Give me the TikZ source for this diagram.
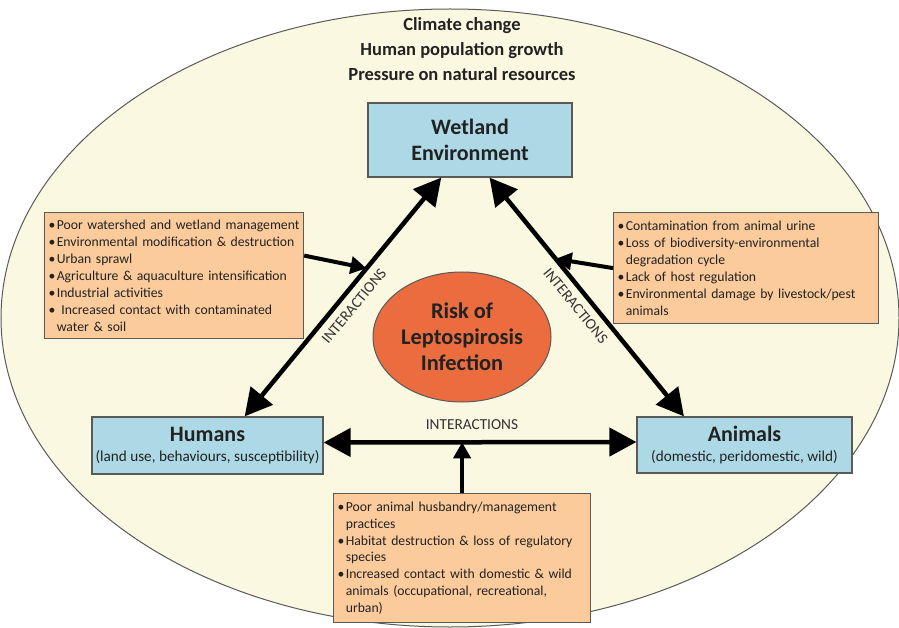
\documentclass[tikz,border=0pt]{standalone}
\usepackage{fontspec}
\setmainfont{Carlito}
\usetikzlibrary{arrows.meta,shapes.geometric,calc}
\definecolor{cream}{HTML}{FAF8E1}
\definecolor{edgegray}{HTML}{5A5A5A}
\definecolor{boxblue}{HTML}{ADD8E6}
\definecolor{boxorange}{HTML}{FBCB9C}
\definecolor{riskred}{HTML}{EB6D3F}
\definecolor{txt}{HTML}{222222}
\newcommand{\bul}{\makebox[0.6em][l]{\textbullet}}
\newcommand{\ind}{\hspace*{0.6em}}
\begin{document}
\begin{tikzpicture}[x=1pt,y=-1pt,
  bluebox/.style={draw=edgegray, fill=boxblue, line width=1.2, align=center, inner sep=2, text=txt},
  infobox/.style={draw=edgegray, fill=boxorange, line width=1.2, inner xsep=4, inner ysep=4, anchor=north west,
     align=left, text=txt, font=\fontsize{13.7}{16.9}\selectfont},
  bigarrow/.style={line width=4.5, {Triangle[length=27,width=28]}-{Triangle[length=27,width=28]}},
  smallarrow/.style={line width=4, -{Triangle[length=16,width=17]}},
  inter/.style={font=\fontsize{15.3}{16}\selectfont, text=black!80, inner sep=2}
]
\useasboundingbox (0,0) rectangle (899,628);
\node[draw=edgegray, fill=cream, ellipse, line width=1, minimum width=898, minimum height=618, inner sep=0] (outer) at (450,318) {};

\node[align=center, font=\bfseries\fontsize{18.5}{25}\selectfont, text=txt] (title) at (462,49)
  {Climate change\\Human population growth\\Pressure on natural resources};

\node[bluebox, minimum width=204, minimum height=74, font=\bfseries\fontsize{22}{26}\selectfont] (wet) at (470,140) {Wetland\\Environment};

\node[bluebox, minimum width=231, minimum height=57] (hum) at (207.5,445.5)
  {{\bfseries\fontsize{22}{22}\selectfont Humans}\\[8pt]{\fontsize{15.2}{16}\selectfont (land use, behaviours, susceptibility)}};

\node[bluebox, minimum width=215, minimum height=56] (ani) at (744.5,445)
  {{\bfseries\fontsize{22}{22}\selectfont Animals}\\[8pt]{\fontsize{15.2}{16}\selectfont (domestic, peridomestic, wild)}};

\node[draw=edgegray, fill=riskred, ellipse, line width=1, minimum width=178, minimum height=130, inner sep=0,
  align=center, font=\bfseries\fontsize{22.4}{26}\selectfont, text=txt] (risk) at (462,337)
  {Risk of\\Leptospirosis\\Infection};

\node[infobox, text width=251, minimum height=126] (lbox) at (44,212)
  {\bul Poor watershed and wetland management\\
   \bul Environmental modification \& destruction\\
   \bul Urban sprawl\\
   \bul Agriculture \& aquaculture intensification\\
   \bul Industrial activities\\
   \bul\ Increased contact with contaminated\\
   \ind water \& soil};

\node[infobox, text width=257, minimum height=111] (rbox) at (613,212)
  {\bul Contamination from animal urine\\
   \bul Loss of biodiversity-environmental\\
   \ind degradation cycle\\
   \bul Lack of host regulation\\
   \bul Environmental damage by livestock/pest\\
   \ind animals};

\node[infobox, text width=249, minimum height=129] (bbox) at (333,493)
  {\bul Poor animal husbandry/management\\
   \ind practices\\
   \bul Habitat destruction \& loss of regulatory\\
   \ind species\\
   \bul Increased contact with domestic \& wild\\
   \ind animals (occupational, recreational,\\
   \ind urban)};

% main interaction arrows
\draw[bigarrow] ($(hum.north west)!0.66!(hum.north east)$) --
  node[inter, midway, sloped, below=5] (il) {INTERACTIONS}
  coordinate[pos=0.62] (lhit)
  ($(wet.south west)!0.36!(wet.south east)$);
\draw[bigarrow] ($(wet.south west)!0.595!(wet.south east)$) --
  node[inter, midway, sloped, below=5] (ir) {INTERACTIONS}
  coordinate[pos=0.34] (rhit)
  ($(ani.north west)!0.22!(ani.north east)$);
\draw[bigarrow] ($(hum.east)+(0,-3)$) --
  coordinate[pos=0.443] (hmid)
  ($(ani.west)+(0,-3)$);
\node[inter] (ib) at (472,425) {INTERACTIONS};

% feeder arrows
\draw[smallarrow] ($(lbox.east)+(0,-20)$) -- (lhit);
\draw[smallarrow] (rbox.west) -- (rhit);
\draw[smallarrow] (bbox.north) -- (bbox.north |- hmid);
\end{tikzpicture}
\end{document}
